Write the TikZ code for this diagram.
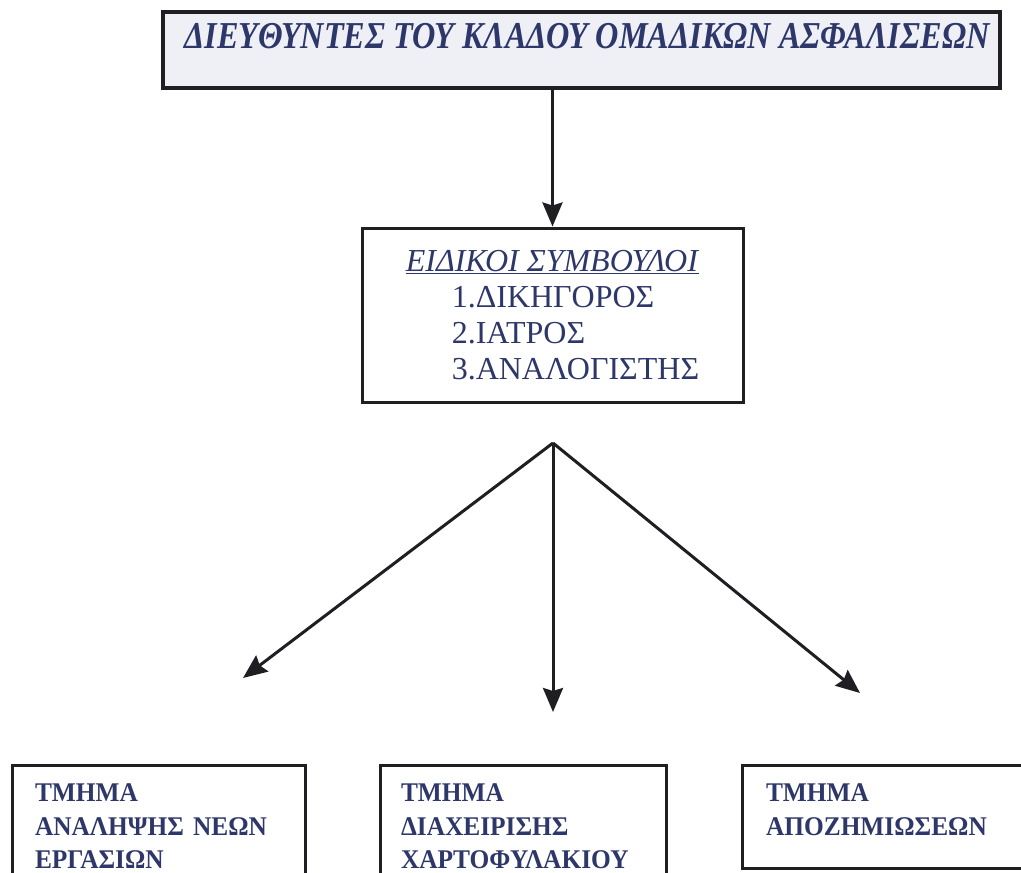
\documentclass[tikz,border=0pt]{standalone}
\usepackage{fontspec}
\setmainfont{Liberation Serif}
\usetikzlibrary{arrows.meta}
\definecolor{ink}{RGB}{45,55,105}
\definecolor{edge}{RGB}{30,30,35}
\definecolor{pale}{RGB}{238,240,246}
\tikzset{
  boxframe/.style={draw=edge, line width=3pt, fill=white, inner sep=0pt},
  arr/.style={draw=edge, line width=3pt, -{Stealth[length=24pt,width=20pt,inset=3pt]}},
  deptext/.style={text=ink, align=left, font=\fontsize{27}{33.5}\selectfont\bfseries\addfontfeatures{FakeStretch=0.94}},
}
\begin{document}
\begin{tikzpicture}[x=1pt,y=-1pt]
\useasboundingbox (0,0) rectangle (1021,873);
\clip (0,0) rectangle (1021,873);
% top box
\node[boxframe, fill=pale, line width=3.5pt, minimum width=837pt, minimum height=76pt] (top) at (581.5,50) {};
\node[text=ink, inner sep=0pt, font=\fontsize{38}{44}\selectfont\bfseries\itshape] (toptext) at (587,36)
  {\scalebox{0.85}[1]{ΔΙΕΥΘΥΝΤΕΣ ΤΟΥ ΚΛΑΔΟΥ ΟΜΑΔΙΚΩΝ ΑΣΦΑΛΙΣΕΩΝ}};
% middle box
\node[boxframe, minimum width=381pt, minimum height=174pt, text=ink, align=left,
      font=\fontsize{32}{36}\selectfont] (mid) at (552.5,315)
  {\underline{\textit{ΕΙΔΙΚΟΙ ΣΥΜΒΟΥΛΟΙ}}\\
   \hspace*{46pt}1.ΔΙΚΗΓΟΡΟΣ\\
   \hspace*{46pt}2.ΙΑΤΡΟΣ\\
   \hspace*{46pt}3.ΑΝΑΛΟΓΙΣΤΗΣ};
% bottom boxes
\node[boxframe, deptext, minimum height=123pt, inner xsep=23pt, text width=247pt] (b1) at (158.5,826.5)
  {ΤΜΗΜΑ\\ΑΝΑΛΗΨΗΣ ΝΕΩΝ\\ΕΡΓΑΣΙΩΝ};
\node[boxframe, deptext, minimum height=123pt, inner xsep=21pt, text width=244pt] (b2) at (523,826.5)
  {ΤΜΗΜΑ\\ΔΙΑΧΕΙΡΙΣΗΣ\\ΧΑΡΤΟΦΥΛΑΚΙΟΥ};
\node[boxframe, deptext, minimum height=103pt, inner xsep=24pt, text width=252pt, text depth=47.5pt] (b3) at (892,816.5)
  {ΤΜΗΜΑ\\ΑΠΟΖΗΜΙΩΣΕΩΝ};
% connectors
\draw[arr] (top.south -| mid.north) -- (mid.north);
\coordinate (fan) at (553,443);
\coordinate (tl) at (243,678);
\coordinate (tm) at (553,712);
\coordinate (tr) at (860,693);
\draw[arr] (fan) -- (tl);
\draw[arr] (fan) -- (tm);
\draw[arr] (fan) -- (tr);
\end{tikzpicture}
\end{document}
